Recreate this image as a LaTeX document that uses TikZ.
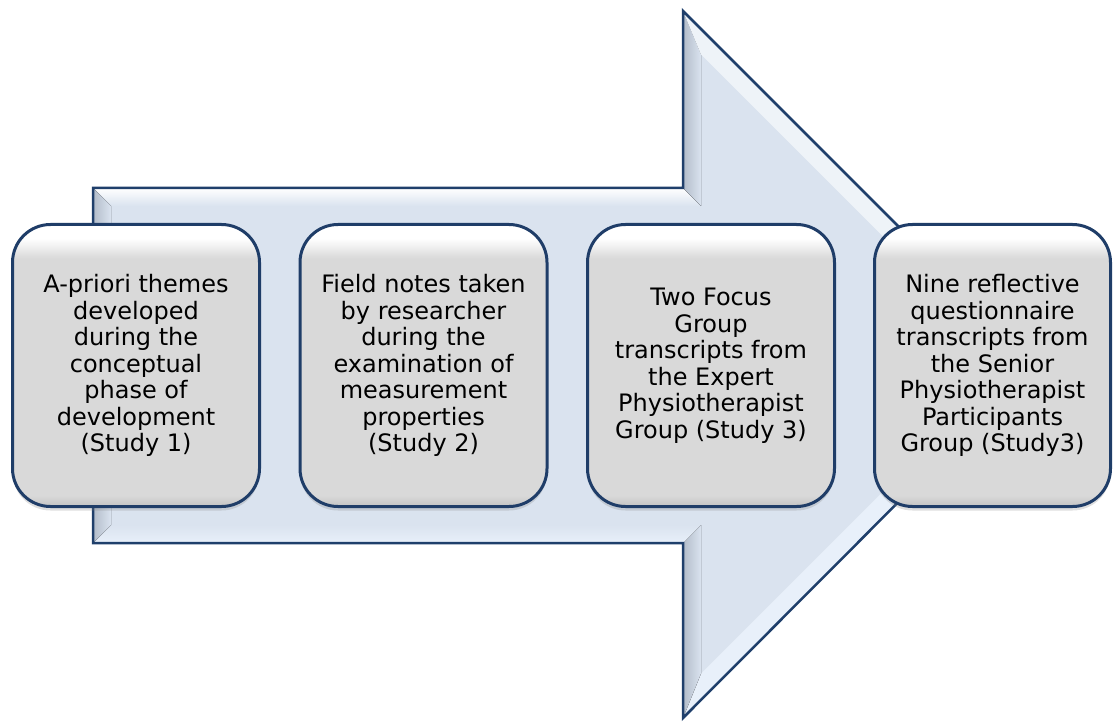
\documentclass[tikz,border=0pt]{standalone}
\usepackage{fontspec}
\setmainfont{DejaVu Sans}
\usetikzlibrary{shadows}
\definecolor{arrowfill}{HTML}{DAE3EF}
\definecolor{arrowedge}{HTML}{1F3F6B}
\definecolor{boxedge}{HTML}{1F3D68}
\definecolor{boxgrey}{HTML}{D9D9D9}
\definecolor{bevdark}{HTML}{B2BCC9}
\definecolor{bevlight}{HTML}{E8F0FA}
\pgfdeclareverticalshading{boxshade}{100bp}{color(0bp)=(boxgrey!90!black); color(25bp)=(boxgrey!90!black); color(27bp)=(boxgrey); color(69bp)=(boxgrey); color(72.5bp)=(white); color(100bp)=(white)}
\tikzset{
  studybox/.style={draw=boxedge, line width=3pt, rounded corners=38pt, shading=boxshade,
    minimum width=247pt, minimum height=282pt, inner sep=0pt, align=center,
    font=\fontsize{24}{26.5}\selectfont,
    drop shadow={shadow xshift=0pt, shadow yshift=-4pt, opacity=0.25}},
  bevel/.style={draw=none}
}
\begin{document}
\begin{tikzpicture}[x=1pt,y=-1pt]
\useasboundingbox (0,0) rectangle (1114,722);
% big arrow, outer outline
\coordinate (a) at (93,188);
\coordinate (b) at (683,188);
\coordinate (c) at (683,11);
\coordinate (d) at (1036,364);
\coordinate (e) at (683,718);
\coordinate (f) at (683,543);
\coordinate (g) at (93,543);
% inset outline for the bevel
\coordinate (a') at (111,206);
\coordinate (b') at (701,206);
\coordinate (c') at (701,54.5);
\coordinate (d') at (1010.5,364);
\coordinate (e') at (701,673.5);
\coordinate (f') at (701,525);
\coordinate (g') at (111,525);
\fill[arrowfill] (a) -- (b) -- (c) -- (d) -- (e) -- (f) -- (g) -- cycle;
\fill[bevel, top color=white, bottom color=arrowfill] (a) -- (b) -- (b') -- (a') -- cycle;
\fill[bevel, left color=bevdark, right color=arrowfill] (b) -- (c) -- (c') -- (b') -- cycle;
\fill[bevel, white!55!arrowfill] (c) -- (d) -- (d') -- (c') -- cycle;
\fill[bevel, bevlight] (d) -- (e) -- (e') -- (d') -- cycle;
\fill[bevel, left color=bevdark, right color=arrowfill] (e) -- (f) -- (f') -- (e') -- cycle;
\fill[bevel, top color=arrowfill, bottom color=bevlight] (f) -- (g) -- (g') -- (f') -- cycle;
\fill[bevel, left color=bevdark, right color=arrowfill] (g) -- (a) -- (a') -- (g') -- cycle;
\draw[arrowedge, line width=2.5pt, line join=miter] (a) -- (b) -- (c) -- (d) -- (e) -- (f) -- (g) -- cycle;
% the four sources
\node[studybox] (themes) at (136,365.5) {A-priori themes\\developed\\during the\\conceptual\\phase of\\development\\(Study 1)};
\node[studybox] (notes) at (423.5,365.5) {Field notes taken\\by researcher\\during the\\examination of\\measurement\\properties\\(Study 2)};
\node[studybox] (focus) at (711,365.5) {Two Focus\\Group\\transcripts from\\the Expert\\Physiotherapist\\Group (Study 3)};
\node[studybox, minimum width=236pt] (quest) at (992.5,365.5) {Nine reflective\\questionnaire\\transcripts from\\the Senior\\Physiotherapist\\Participants\\Group (Study3)};
\end{tikzpicture}
\end{document}
